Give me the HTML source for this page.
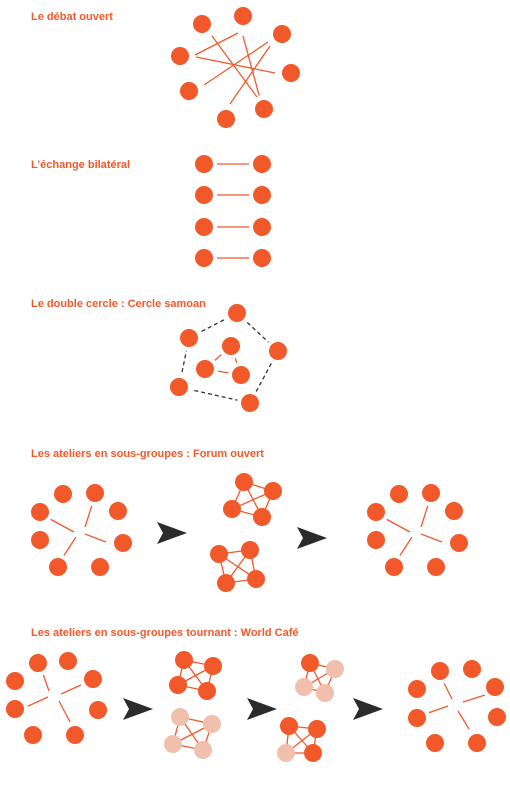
<!DOCTYPE html>
<html><head><meta charset="utf-8"><style>
html,body{margin:0;padding:0;background:#fff;}
svg{display:block;}
text{font-family:"Liberation Sans",sans-serif;font-weight:bold;font-size:11px;fill:#f2592a;}
.g circle{stroke:#fff;stroke-width:4;}
</style></head><body>
<svg width="510" height="794" viewBox="0 0 510 794">
<defs>
<g id="arrow"><polygon points="0,-11 30,0 0,11 6,0" fill="#2b2b2b"/></g>
</defs>
<text x="31" y="20">Le débat ouvert</text>
<text x="31" y="168">L’échange bilatéral</text>
<text x="31" y="307">Le double cercle : Cercle samoan</text>
<text x="31" y="457">Les ateliers en sous-groupes : Forum ouvert</text>
<text x="31" y="636">Les ateliers en sous-groupes tournant : World Café</text>

<g stroke="#f2592a" stroke-width="1.3" fill="none">
<line x1="195" y1="55" x2="238" y2="33"/>
<line x1="212" y1="36" x2="257" y2="97"/>
<line x1="243" y1="36" x2="259" y2="95"/>
<line x1="196" y1="57" x2="275" y2="73"/>
<line x1="204" y1="85" x2="268" y2="42"/>
<line x1="230" y1="104" x2="270" y2="46"/>
<line x1="204" y1="164" x2="262" y2="164"/>
<line x1="204" y1="195" x2="262" y2="195"/>
<line x1="204" y1="227" x2="262" y2="227"/>
<line x1="204" y1="258" x2="262" y2="258"/>
<line x1="231" y1="346" x2="205" y2="369"/>
<line x1="231" y1="346" x2="241" y2="375"/>
<line x1="205" y1="369" x2="241" y2="375"/>
<line x1="92" y1="505" x2="85" y2="527"/><line x1="50" y1="519" x2="74" y2="532"/>
<line x1="76" y1="537" x2="63" y2="557"/><line x1="85" y1="534" x2="106" y2="542"/>
<line x1="428" y1="505" x2="421" y2="527"/><line x1="386" y1="519" x2="410" y2="532"/>
<line x1="412" y1="537" x2="399" y2="557"/><line x1="421" y1="534" x2="442" y2="542"/>
<path d="M244,482L273,491L262,517L232,509Z M244,482L262,517 M273,491L232,509"/>
<path d="M219,554L250,550L256,579L226,583Z M219,554L256,579 M250,550L226,583"/>
<line x1="43" y1="674" x2="49" y2="691"/><line x1="61" y1="694" x2="81" y2="685"/>
<line x1="26" y1="707" x2="48" y2="697"/><line x1="59" y1="701" x2="70" y2="722"/>
<line x1="444" y1="683" x2="452" y2="699"/><line x1="463" y1="702" x2="485" y2="695"/>
<line x1="428" y1="713" x2="448" y2="706"/><line x1="458" y1="711" x2="469" y2="729"/>
<path d="M184,660L213,666L207,691L178,685Z M184,660L207,691 M213,666L178,685"/>
<path d="M180,717L212,724L203,750L173,744Z M180,717L203,750 M212,724L173,744"/>
<path d="M310,663L335,669L325,693L304,687Z M310,663L325,693 M335,669L304,687"/>
<path d="M289,726L317,729L313,753L286,753Z M289,726L313,753 M317,729L286,753"/>
</g>
<path d="M237,313L278,351L250,403L179,387L189,338Z" stroke="#333" stroke-width="1.3" stroke-dasharray="4,3" fill="none"/>

<g fill="#f2592a" class="g">
<circle cx="202" cy="24" r="11"/><circle cx="243" cy="16" r="11"/><circle cx="282" cy="34" r="11"/>
<circle cx="291" cy="73" r="11"/><circle cx="264" cy="109" r="11"/><circle cx="226" cy="119" r="11"/>
<circle cx="189" cy="91" r="11"/><circle cx="180" cy="56" r="11"/>
<circle cx="204" cy="164" r="11"/><circle cx="262" cy="164" r="11"/>
<circle cx="204" cy="195" r="11"/><circle cx="262" cy="195" r="11"/>
<circle cx="204" cy="227" r="11"/><circle cx="262" cy="227" r="11"/>
<circle cx="204" cy="258" r="11"/><circle cx="262" cy="258" r="11"/>
<circle cx="237" cy="313" r="11"/><circle cx="189" cy="338" r="11"/><circle cx="278" cy="351" r="11"/>
<circle cx="179" cy="387" r="11"/><circle cx="250" cy="403" r="11"/>
<circle cx="231" cy="346" r="11"/><circle cx="205" cy="369" r="11"/><circle cx="241" cy="375" r="11"/>
<circle cx="63" cy="494" r="11"/><circle cx="95" cy="493" r="11"/><circle cx="40" cy="512" r="11"/><circle cx="118" cy="511" r="11"/>
<circle cx="40" cy="540" r="11"/><circle cx="123" cy="543" r="11"/><circle cx="58" cy="567" r="11"/><circle cx="100" cy="567" r="11"/>
<circle cx="399" cy="494" r="11"/><circle cx="431" cy="493" r="11"/><circle cx="376" cy="512" r="11"/><circle cx="454" cy="511" r="11"/>
<circle cx="376" cy="540" r="11"/><circle cx="459" cy="543" r="11"/><circle cx="394" cy="567" r="11"/><circle cx="436" cy="567" r="11"/>
<circle cx="38" cy="663" r="11"/><circle cx="68" cy="661" r="11"/><circle cx="15" cy="681" r="11"/><circle cx="93" cy="679" r="11"/>
<circle cx="15" cy="709" r="11"/><circle cx="98" cy="710" r="11"/><circle cx="33" cy="735" r="11"/><circle cx="75" cy="735" r="11"/>
<circle cx="440" cy="671" r="11"/><circle cx="472" cy="669" r="11"/><circle cx="417" cy="689" r="11"/><circle cx="495" cy="687" r="11"/>
<circle cx="417" cy="718" r="11"/><circle cx="497" cy="717" r="11"/><circle cx="435" cy="743" r="11"/><circle cx="477" cy="743" r="11"/>
</g>
<g fill="#f2592a">
<circle cx="244" cy="482" r="9"/><circle cx="273" cy="491" r="9"/><circle cx="232" cy="509" r="9"/><circle cx="262" cy="517" r="9"/>
<circle cx="219" cy="554" r="9"/><circle cx="250" cy="550" r="9"/><circle cx="226" cy="583" r="9"/><circle cx="256" cy="579" r="9"/>
<circle cx="184" cy="660" r="9"/><circle cx="213" cy="666" r="9"/><circle cx="178" cy="685" r="9"/><circle cx="207" cy="691" r="9"/>
<circle cx="310" cy="663" r="9"/>
<circle cx="289" cy="726" r="9"/><circle cx="317" cy="729" r="9"/><circle cx="313" cy="753" r="9"/>
</g>
<g fill="#f0c0ad">
<circle cx="180" cy="717" r="9"/><circle cx="212" cy="724" r="9"/><circle cx="173" cy="744" r="9"/><circle cx="203" cy="750" r="9"/>
<circle cx="335" cy="669" r="9"/><circle cx="304" cy="687" r="9"/><circle cx="325" cy="693" r="9"/>
<circle cx="286" cy="753" r="9"/>
</g>
<use href="#arrow" x="157" y="533"/>
<use href="#arrow" x="297" y="538"/>
<use href="#arrow" x="123" y="709"/>
<use href="#arrow" x="247" y="709"/>
<use href="#arrow" x="353" y="709"/>
</svg>
</body></html>
